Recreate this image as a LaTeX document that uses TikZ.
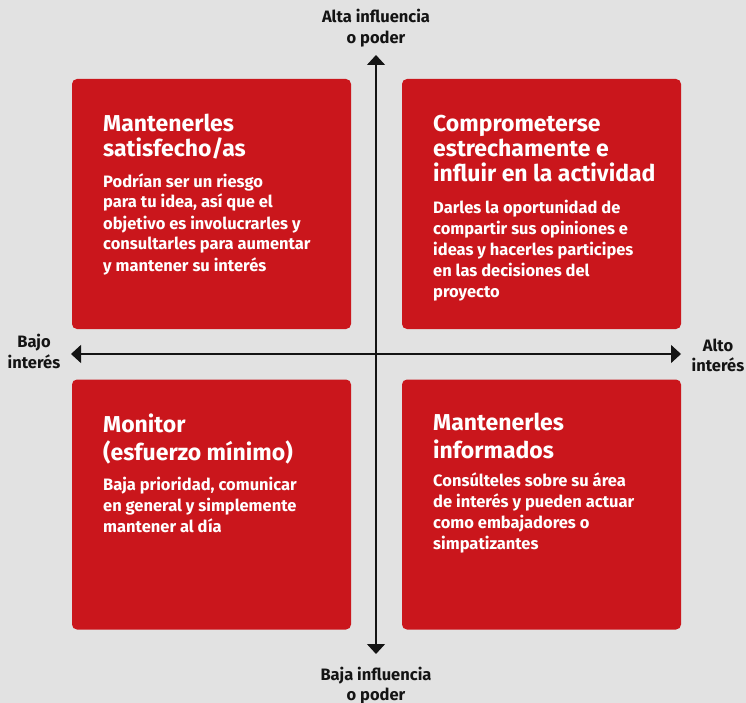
\documentclass[tikz,border=0pt]{standalone}
\usepackage{fontspec}
\setmainfont{Fira Sans}
\usetikzlibrary{arrows.meta}

\definecolor{paper}{HTML}{E2E2E2}
\definecolor{quadred}{HTML}{CA161C}
\definecolor{ink}{HTML}{141414}

\tikzset{
  quad/.style={fill=quadred, rounded corners=5pt, minimum width=279pt, minimum height=250pt, inner sep=0pt},
  % multi-line nodes sit on the baseline of their last line
  heading/.style={anchor=base west, align=left, inner sep=0pt, text=white,
    font=\fontsize{23}{25}\selectfont\bfseries},
  blurb/.style={anchor=base west, align=left, inner sep=0pt, text=white,
    font=\fontsize{16.5}{21}\selectfont\bfseries},
  axislabel/.style={anchor=base, align=center, inner sep=0pt, text=ink,
    font=\fontsize{16.5}{20.5}\selectfont\bfseries},
  axis/.style={draw=ink, line width=1.3pt, {Triangle[width=18pt,length=10pt]}-{Triangle[width=18pt,length=10pt]}}
}

\begin{document}
\begin{tikzpicture}[x=1pt,y=-1pt]

      \fill[paper] (0,0) rectangle (746,703);
      \useasboundingbox (0,0) rectangle (746,703);

      % Define the four quadrants
      \node[quad] (keep) at (211.5,204) {};
      \node[quad] (engage) at (541.5,204) {};
      \node[quad] (monitor) at (211.5,504.5) {};
      \node[quad] (inform) at (541.5,504.5) {};

      % Texts of the quadrants
      \node[heading] (keep-t) at (103,156.7) {Mantenerles\\satisfecho/as};
      \node[blurb] (keep-b) at (103,271) {Podrían ser un riesgo\\para tu idea, así que el\\objetivo es involucrarles y\\consultarles para aumentar\\y mantener su interés};

      \node[heading] (engage-t) at (433,182) {Comprometerse\\estrechamente e\\influir en la actividad};
      \node[blurb] (engage-b) at (433,297) {Darles la oportunidad de\\compartir sus opiniones e\\ideas y hacerles participes\\en las decisiones del\\proyecto};

      \node[heading] (monitor-t) at (103,460) {Monitor\\[3pt](esfuerzo mínimo)};
      \node[blurb] (monitor-b) at (103,532.7) {Baja prioridad, comunicar\\en general y simplemente\\mantener al día};

      \node[heading] (inform-t) at (433,458.5) {Mantenerles\\[3pt]informados};
      \node[blurb] (inform-b) at (433,549.5) {Consúlteles sobre su área\\de interés y pueden actuar\\como embajadores o\\simpatizantes};

      % Ends of the axes
      \coordinate (top) at (376,55);
      \coordinate (bottom) at (376,654);
      \coordinate (left) at (71,354);
      \coordinate (right) at (681,354);

      \node[axislabel] (high) at (376,43.5) {Alta influencia\\o poder};
      \node[axislabel] (low) at (376,700.5) {Baja influencia\\o poder};
      \node[axislabel] (lowint) at (34,368) {Bajo\\interés};
      \node[axislabel] (highint) at (718,371.7) {Alto\\interés};

      % Draw the axes
      \draw[axis] (bottom) -- (top);
      \draw[axis] (left) -- (right);
  \end{tikzpicture}
\end{document}
